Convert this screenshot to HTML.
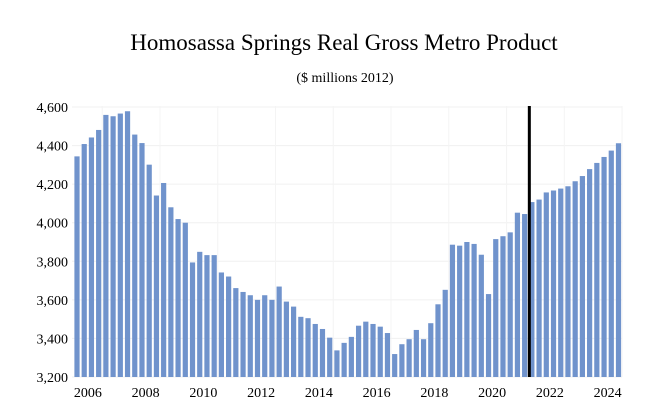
<!DOCTYPE html>
<html><head><meta charset="utf-8"><style>
body{margin:0;background:#fff}
svg{display:block;font-family:"Liberation Serif",serif}
</style></head><body>
<svg width="658" height="420" id="c">
<text x="344" y="50" text-anchor="middle" font-size="23" fill="#000">Homosassa Springs Real Gross Metro Product</text>
<text x="345" y="82" text-anchor="middle" font-size="14" fill="#000">($ millions 2012)</text>
<g id="grid"></g><g id="bars"></g><g id="ylab"></g><g id="xlab"></g>
</svg>
<script>
const yTicks=[3200,3400,3600,3800,4000,4200,4400,4600];
const yTickLabels=["3,200","3,400","3,600","3,800","4,000","4,200","4,400","4,600"];
const xTickLabels=["2006","2008","2010","2012","2014","2016","2018","2020","2022","2024"];
const startYear=2006;
const values=[4344,4408,4442,4481,4559,4552,4566,4578,4457,4413,4301,4141,4206,4080,4019,4000,3794,3849,3832,3832,3742,3721,3661,3641,3624,3600,3624,3600,3669,3591,3565,3512,3505,3475,3449,3404,3338,3377,3408,3466,3487,3475,3461,3428,3319,3370,3396,3444,3396,3479,3577,3652,3886,3881,3900,3890,3834,3630,3915,3930,3950,4052,4045,4107,4120,4157,4167,4177,4189,4215,4242,4278,4310,4341,4374,4412];
const forecastIndex=62.65;
const NS="http://www.w3.org/2000/svg";
const x=i=>77+7.22*i;
const y=v=>377-(v-3200)*(270/1400);
function mk(t,a,p){const e=document.createElementNS(NS,t);for(const k in a)e.setAttribute(k,a[k]);p.appendChild(e);return e;}
const grid=document.getElementById('grid'),bars=document.getElementById('bars'),yl=document.getElementById('ylab'),xl=document.getElementById('xlab');
yTicks.forEach((t,i)=>{
 const l=mk('line',{x1:72,x2:622,y1:y(t),y2:y(t),stroke:'#f0f0f0','stroke-width':1},grid);
 
 
 const tx=mk('text',{x:68,y:y(t)+5,'text-anchor':'end','font-size':14},yl);
 tx.textContent=yTickLabels[i];
 
 
});
xTickLabels.forEach(s=>{
 const yr=parseInt(s);const cx=x((yr-startYear)*4+1.5);
 const g=mk('line',{x1:cx+14.4,x2:cx+14.4,y1:106,y2:377,stroke:'#f4f4f4','stroke-width':1},grid);
 
 
 const tx=mk('text',{x:cx,y:397,'text-anchor':'middle','font-size':14},xl);
 tx.textContent=s;
 
 
});
values.forEach((v,i)=>{
 const r=mk('rect',{x:x(i)-2.6,y:y(v),width:5.2,height:377-y(v),fill:'#7093cc'},bars);
 
 
});
const fl=mk('line',{x1:x(forecastIndex),x2:x(forecastIndex),y1:106,y2:377,stroke:'#000','stroke-width':3},bars);


</script>
</body></html>
